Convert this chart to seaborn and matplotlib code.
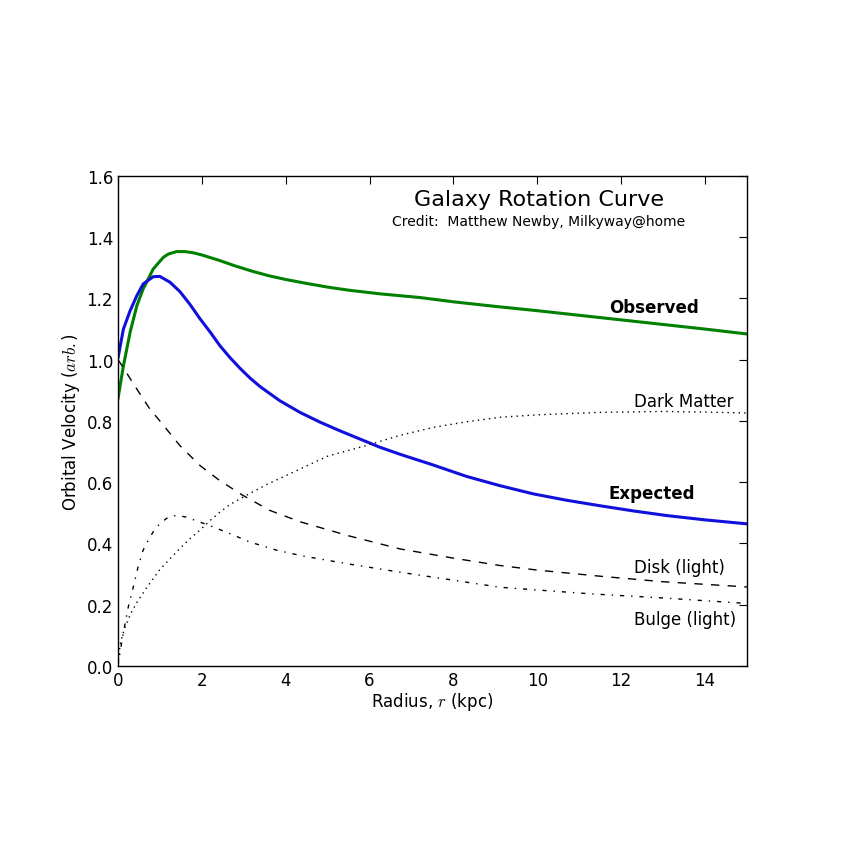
import matplotlib
matplotlib.use("Agg")
import matplotlib.pyplot as plt
import seaborn as sns

# readings from the reference, radius in kpc
obs_r = [0, 0.13, 0.29, 0.45, 0.6, 0.84, 1.08, 1.2, 1.4, 1.6, 1.8, 2.0, 2.4, 2.8, 3.2, 3.6, 4.0, 4.5, 5.0,
         5.5, 6.25, 7.2, 8, 9, 10, 11, 12, 13, 14, 15]
obs_v = [0.872, 0.98, 1.09, 1.176, 1.231, 1.296, 1.334, 1.345, 1.353, 1.353, 1.349, 1.342, 1.325, 1.306,
         1.289, 1.274, 1.262, 1.249, 1.237, 1.227, 1.215, 1.203, 1.189, 1.174, 1.16, 1.145, 1.13, 1.115,
         1.1, 1.084]

exp_r = [0, 0.13, 0.29, 0.45, 0.6, 0.84, 1.0, 1.24, 1.48, 1.72, 1.96, 2.2, 2.43, 2.67, 2.91, 3.15, 3.39,
         3.86, 4.34, 4.82, 5.29, 5.77, 6.25, 6.73, 7.5, 8.31, 9.1, 9.9, 10.7, 11.5, 12.3, 13.09, 14, 15]
exp_v = [1.005, 1.10, 1.16, 1.209, 1.247, 1.271, 1.272, 1.253, 1.222, 1.18, 1.133, 1.09, 1.046, 1.007, 0.972,
         0.94, 0.912, 0.866, 0.828, 0.796, 0.768, 0.741, 0.714, 0.691, 0.657, 0.619, 0.589, 0.562, 0.541,
         0.523, 0.506, 0.491, 0.477, 0.464]

dm_r = [0, 0.05, 0.15, 0.3, 0.44, 0.68, 0.84, 1.0, 1.24, 1.48, 1.71, 1.95, 2.19, 2.43, 2.67, 3.06, 3.54,
        4.34, 5.0, 5.93, 6.7, 7.52, 8.3, 9.11, 10, 11.5, 13, 14, 15]
dm_v = [0, 0.07, 0.12, 0.17, 0.205, 0.255, 0.285, 0.315, 0.35, 0.384, 0.415, 0.443, 0.474, 0.502, 0.527,
        0.557, 0.592, 0.643, 0.685, 0.72, 0.752, 0.779, 0.797, 0.812, 0.82, 0.828, 0.831, 0.829, 0.826]

disk_r = [0, 0.1, 0.37, 0.76, 1.0, 1.48, 1.96, 2.43, 2.98, 3.62, 4.34, 5.5, 6.73, 8, 9.11, 10, 11.5, 13, 15]
disk_v = [1.0, 0.98, 0.921, 0.839, 0.80, 0.719, 0.654, 0.605, 0.557, 0.508, 0.471, 0.425, 0.382, 0.352,
          0.328, 0.313, 0.293, 0.275, 0.258]

bulge_r = [0, 0.05, 0.13, 0.25, 0.37, 0.48, 0.6, 0.72, 0.84, 1.0, 1.2, 1.4, 1.63, 1.95, 2.27, 2.67, 3.14,
           3.78, 4.41, 5.5, 6.73, 8, 9.11, 10, 11.33, 13, 15]
bulge_v = [0, 0.045, 0.11, 0.195, 0.26, 0.324, 0.378, 0.41, 0.438, 0.465, 0.486, 0.492, 0.486, 0.47, 0.454,
           0.432, 0.405, 0.378, 0.359, 0.333, 0.306, 0.28, 0.257, 0.248, 0.235, 0.222, 0.204]

sns.set_style("white")
plt.rcParams["font.family"] = ["DejaVu Sans"]
plt.rcParams["mathtext.fontset"] = "cm"
plt.rcParams["lines.scale_dashes"] = False
plt.rcParams["text.color"] = "black"
plt.rcParams["axes.labelcolor"] = "black"

fig = plt.figure(figsize=(8.45, 8.45), dpi=100)
ax = fig.add_axes([0.1396, 0.2107, 0.7444, 0.5799])

sns.lineplot(x=obs_r, y=obs_v, ax=ax, color="#008000", linewidth=2.2)
sns.lineplot(x=exp_r, y=exp_v, ax=ax, color="#1010dd", linewidth=2.2)
sns.lineplot(x=dm_r, y=dm_v, ax=ax, color="black", linewidth=1, linestyle=(0, (1, 3)))
sns.lineplot(x=disk_r, y=disk_v, ax=ax, color="black", linewidth=1, linestyle=(0, (6, 6)))
sns.lineplot(x=bulge_r, y=bulge_v, ax=ax, color="black", linewidth=1, linestyle=(0, (3, 5, 1, 5)))

ax.set_xlim(0, 15)
ax.set_ylim(0, 1.6)
ax.set_xticks([0, 2, 4, 6, 8, 10, 12, 14])
ax.set_yticks([0.0, 0.2, 0.4, 0.6, 0.8, 1.0, 1.2, 1.4, 1.6])
ax.tick_params(direction="in", length=6, width=0.8, top=True, right=True, labelsize=12, pad=3.5, colors="black")
for s in ax.spines.values():
    s.set_color("black")
    s.set_linewidth(1)

ax.set_xlabel("Radius, $r$ (kpc)", fontsize=12, labelpad=1)
ax.set_ylabel("Orbital Velocity ($arb.$)", fontsize=12, labelpad=3)

ax.text(10.04, 1.525, "Galaxy Rotation Curve", fontsize=16, ha="center", va="center")
ax.text(10.04, 1.453, "Credit:  Matthew Newby, Milkyway@home", fontsize=10, ha="center", va="center")

ax.text(11.71, 1.172, "Observed", fontsize=12, fontweight="bold", va="center")
ax.text(11.69, 0.565, "Expected", fontsize=12, fontweight="bold", va="center")
ax.text(12.3, 0.865, "Dark Matter", fontsize=12, va="center")
ax.text(12.3, 0.323, "Disk (light)", fontsize=12, va="center")
ax.text(12.3, 0.153, "Bulge (light)", fontsize=12, va="center")

fig.savefig("out.png", dpi=100, facecolor="white")
